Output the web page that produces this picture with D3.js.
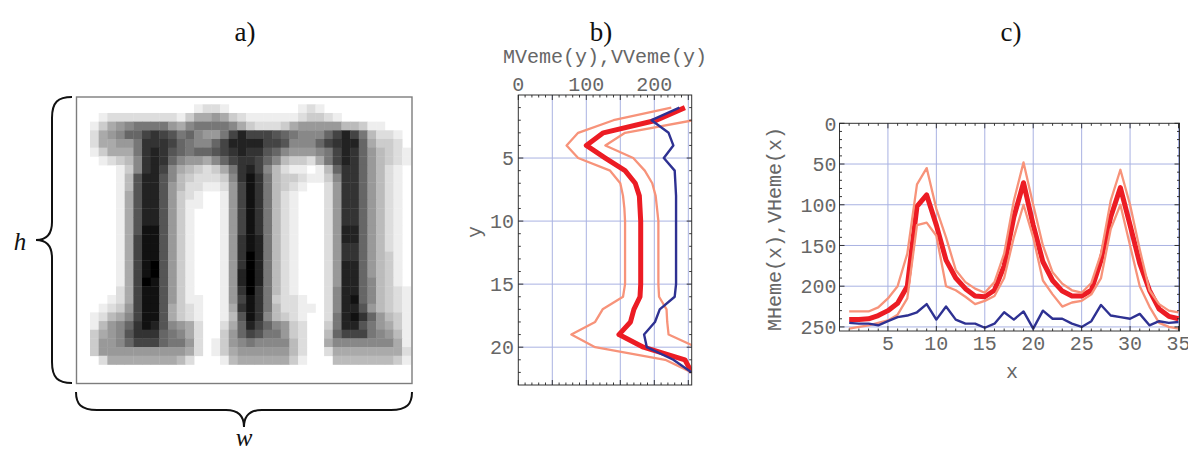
<!DOCTYPE html>
<html>
<head>
<meta charset="utf-8">
<script src="https://cdn.jsdelivr.net/npm/d3@7"></script>
<style>
  body { margin: 0; background: #fff; }
  svg { display: block; }
</style>
</head>
<body>
<svg id="fig" width="1188" height="450"></svg>
<script>
// ---------- data ----------
// a) averaged glyph, one string per image row, hex gray level per pixel (0 = black, f = white)
const glyphRows = [
  "ffffffffffff edde ffffffff ede ffffffffff",
  "fedddddddde caa9acd eeeee edccde ffffffff",
  "eca9877779a877778a cdddca99999bbceefff",
  "da9866434576899742 44456788864247bddef",
  "daa997333467886422 22445888643226accdf",
  "ecaaa7323567665432 335689998742369bcde",
  "fedcb83236899a8643 3468bccda742369bcde",
  "fffec83248abcdca73 248bdeefeb63369bdef",
  "fffeb5225 8bc ddd c831 37bcc dee c8336 9bdef",
  "fffeb5225 9bd dee d941 37bcd eff d9336 9bdef",
  "fffea5225 9cd eff e941 37bde fff d9336 9bdef",
  "fffea5225 9ce eff e941 37bde fff d9336 9bdef",
  "fffea5225 9ce fff e941 37bde fff d9336 9bdef",
  "fffea5225 9ce fff e941 37bde fff d9336 9bdef",
  "fffea5115 9ce fff e941 37bde fff d9226 9bdef",
  "fffea4115 9ce fff e931 27bde fff d9226 9bdef",
  "fffea4115 9ce fff e931 27bde fff d9336 9bdef",
  "fffea4115 9ce fff e930 27bde fff d9336 9bcef",
  "fffea4105 9ce fff e930 27bde fff d9226 9bcef",
  "fffea4105 9ce fff e920 27bde fff d9226 9bcef",
  "fffea4015 9ce fff e920 27bde fff d9226 8bcef",
  "fffda4115 9ce fff e930 37bde fff d8226 8bcde",
  "ffeda4115 9ce eff e941 37cdd eff d8216 8bcde",
  "fedc94115acdef fea3137bddee fd82259bcde",
  "edba84115acdef feb5138bcdef fd721369bce",
  "eb986312589adf fda624689cdf fc722579ace",
  "ca985333678adf fc9645779cdf fb6444789be",
  "c99864446779df ec9878888bdf fa8888888ae",
  "c9999999999adf eca999999bdf fdaaaaaaaad",
  "fdaaaaaaaabdff febaaaaaacef ffbbbbbbbce"
];

// b) row profiles, y = 1..22
const rowY     = [1,2,3,4,5,6,7,8,9,10,11,12,13,14,15,16,17,18,19,20,21,22];
const rowMean  = [245,203,125,100,128,157,172,178,179,180,180,180,180,180,180,179,170,165,148,184,245,255];
const rowLow   = [225,140,88,71,88,135,150,154,156,157,157,157,157,157,157,154,124,113,78,113,216,255];
const rowHigh  = [268,258,157,128,169,186,197,202,204,206,206,206,206,206,206,207,218,219,221,262,270,255];
const rowVar   = [237,196,221,228,214,230,231,232,232,232,232,232,232,232,232,230,208,201,185,189,228,255];

// c) column profiles, x = 1..35
const colX     = [1,2,3,4,5,6,7,8,9,10,11,12,13,14,15,16,17,18,19,20,21,22,23,24,25,26,27,28,29,30,31,32,33,34,35];
const colMean  = [241,241,240,236,230,221,200,102,88,125,168,190,203,212,213,205,175,115,73,125,170,193,206,212,212,205,168,115,79,125,172,205,228,237,240];
const colLow   = [231,231,231,226,215,200,160,75,55,105,140,180,195,203,208,195,160,95,48,100,150,183,197,205,208,196,160,95,57,100,155,205,222,230,232];
const colHigh  = [252,250,248,245,242,235,215,125,122,138,200,205,213,222,218,212,190,140,100,140,193,210,225,220,218,210,190,130,100,150,200,225,245,250,252];
const colVar   = [245,246,246,248,243,238,236,232,222,241,225,241,246,246,251,246,232,241,231,252,230,240,240,246,250,243,223,236,238,240,234,248,243,245,244];

// tick labels
const bTopLabels  = [0, 100, 200];
const bLeftLabels = [5, 10, 15, 20];
const cLeftLabels = [0, 50, 100, 150, 200, 250];
const cBotLabels  = [5, 10, 15, 20, 25, 30, 35];

// ---------- styles ----------
const C_MEAN = "#ec1c24", C_BAND = "#f7937a", C_VAR = "#2e3192", C_GRID = "#a9b2e2";
const MONO = "'Liberation Mono', 'DejaVu Sans Mono', monospace";
const SERIF = "'Liberation Serif', 'DejaVu Serif', serif";
const LABEL = "#666";

const svg = d3.select("#fig");

// ---------- panel titles ----------
[["a)", 245], ["b)", 601], ["c)", 1011]].forEach(([t, x]) => {
  svg.append("text").attr("x", x).attr("y", 41).attr("text-anchor", "middle")
    .attr("font-family", SERIF).attr("font-size", 27).attr("fill", "#111").text(t);
});

// ---------- a) glyph image ----------
const grid = glyphRows.map(r => r.replace(/ /g, "").split("").map(ch => parseInt(ch, 16)));
const xA = d3.scaleLinear().domain([0, 37]).range([90, 410.8]);
const yA = d3.scaleLinear().domain([0, 30]).range([104.3, 364.4]);
const gray = d3.scaleLinear().domain([0, 15]).range(["#000000", "#ffffff"]);
const cells = [];
grid.forEach((row, r) => row.forEach((v, c) => cells.push({r, c, v})));
const gA = svg.append("g");
gA.selectAll("rect.px").data(cells.filter(d => d.v < 15)).join("rect")
  .attr("x", d => xA(d.c)).attr("y", d => yA(d.r))
  .attr("width", xA(1) - xA(0) + 0.4).attr("height", yA(1) - yA(0) + 0.4)
  .attr("fill", d => gray(d.v));
gA.append("rect").attr("x", 76.5).attr("y", 97).attr("width", 335.5).attr("height", 286.5)
  .attr("fill", "none").attr("stroke", "#7d7d7d").attr("stroke-width", 1.4);

// braces
svg.append("path")
  .attr("d", "M72,97 C58,97 52,102 52,118 L52,222 C52,234 46,240 36,240 C46,240 52,246 52,258 L52,362 C52,378 58,383 72,383")
  .attr("fill", "none").attr("stroke", "#111").attr("stroke-width", 2);
svg.append("path")
  .attr("d", "M76,392 C76,404 81,410 97,410 L226,410 C238,410 244,416 244,427 C244,416 250,410 262,410 L391,410 C407,410 412,404 412,392")
  .attr("fill", "none").attr("stroke", "#111").attr("stroke-width", 2);
svg.append("text").attr("x", 20).attr("y", 250).attr("text-anchor", "middle")
  .attr("font-family", SERIF).attr("font-style", "italic").attr("font-size", 25).attr("fill", "#111").text("h");
svg.append("text").attr("x", 244).attr("y", 446).attr("text-anchor", "middle")
  .attr("font-family", SERIF).attr("font-style", "italic").attr("font-size", 25).attr("fill", "#111").text("w");

// ---------- shared helpers ----------
function frameTicks(g, x0, x1, y0, y1, xs, ys) {
  // xs / ys: arrays of {pos, len}; ticks drawn inward on all four sides
  xs.forEach(t => {
    g.append("line").attr("x1", t.pos).attr("x2", t.pos).attr("y1", y0).attr("y2", y0 + t.len);
    g.append("line").attr("x1", t.pos).attr("x2", t.pos).attr("y1", y1).attr("y2", y1 - t.len);
  });
  ys.forEach(t => {
    g.append("line").attr("y1", t.pos).attr("y2", t.pos).attr("x1", x0).attr("x2", x0 + t.len);
    g.append("line").attr("y1", t.pos).attr("y2", t.pos).attr("x1", x1).attr("x2", x1 - t.len);
  });
  g.selectAll("line").attr("stroke", "#222").attr("stroke-width", 0.9);
}

// ---------- b) row profile ----------
const xB = d3.scaleLinear().domain([0, 255]).range([518.3, 691.7]);
const yB = d3.scaleLinear().domain([0, 23]).range([95, 385]);
const gB = svg.append("g");
gB.append("clipPath").attr("id", "clipB").append("rect")
  .attr("x", xB(0)).attr("y", yB(0)).attr("width", xB(255) - xB(0)).attr("height", yB(23) - yB(0));
gB.append("g").selectAll("line.gx").data([50, 100, 150, 200, 250]).join("line")
  .attr("x1", d => xB(d)).attr("x2", d => xB(d)).attr("y1", yB(0)).attr("y2", yB(23))
  .attr("stroke", C_GRID).attr("stroke-width", 1);
gB.append("g").selectAll("line.gy").data(bLeftLabels).join("line")
  .attr("y1", d => yB(d)).attr("y2", d => yB(d)).attr("x1", xB(0)).attr("x2", xB(255))
  .attr("stroke", C_GRID).attr("stroke-width", 1);

const lineB = vals => d3.line().x((d, i) => xB(vals[i])).y((d, i) => yB(rowY[i]))(rowY);
const plotB = gB.append("g").attr("clip-path", "url(#clipB)");
plotB.append("path").attr("d", lineB(rowMean)).attr("fill", "none").attr("stroke", C_MEAN)
  .attr("stroke-width", 5).attr("stroke-linejoin", "round");
[rowLow, rowHigh].forEach(v => plotB.append("path").attr("d", lineB(v)).attr("fill", "none")
  .attr("stroke", C_BAND).attr("stroke-width", 2.3).attr("stroke-linejoin", "round"));
plotB.append("path").attr("d", lineB(rowVar)).attr("fill", "none").attr("stroke", C_VAR)
  .attr("stroke-width", 2.4).attr("stroke-linejoin", "round");

gB.append("rect").attr("x", xB(0)).attr("y", yB(0)).attr("width", xB(255) - xB(0)).attr("height", yB(23) - yB(0))
  .attr("fill", "none").attr("stroke", "#333").attr("stroke-width", 1);
frameTicks(gB.append("g"), xB(0), xB(255), yB(0), yB(23),
  d3.range(0, 256, 10).map(v => ({pos: xB(v), len: v % 50 === 0 ? 5 : 2.5})),
  d3.range(1, 23, 1).map(v => ({pos: yB(v), len: v % 5 === 0 ? 5 : 2.5})));

gB.selectAll("text.tx").data(bTopLabels).join("text")
  .attr("x", d => xB(d)).attr("y", 91).attr("text-anchor", "middle")
  .attr("font-family", MONO).attr("font-size", 20).attr("fill", LABEL).text(d => d);
gB.selectAll("text.ty").data(bLeftLabels).join("text")
  .attr("x", 514).attr("y", d => yB(d)).attr("dy", "0.36em").attr("text-anchor", "end")
  .attr("font-family", MONO).attr("font-size", 20).attr("fill", LABEL).text(d => d);
gB.append("text").attr("x", 605).attr("y", 63).attr("text-anchor", "middle")
  .attr("font-family", MONO).attr("font-size", 20).attr("fill", LABEL).text("MVeme(y),VVeme(y)");
gB.append("text").attr("transform", "translate(481,232) rotate(-90)").attr("text-anchor", "middle")
  .attr("font-family", MONO).attr("font-size", 20).attr("fill", LABEL).text("y");

// ---------- c) column profile ----------
const xC = d3.scaleLinear().domain([0, 35]).range([839.5, 1178.5]);
const yC = d3.scaleLinear().domain([0, 255]).range([123.3, 331]);
const gC = svg.append("g");
gC.append("clipPath").attr("id", "clipC").append("rect")
  .attr("x", xC(0)).attr("y", yC(0)).attr("width", 1179.5 - xC(0)).attr("height", yC(255) - yC(0));
gC.append("g").selectAll("line").data(cBotLabels).join("line")
  .attr("x1", d => xC(d)).attr("x2", d => xC(d)).attr("y1", yC(0)).attr("y2", yC(255))
  .attr("stroke", C_GRID).attr("stroke-width", 1);
gC.append("g").selectAll("line").data([50, 100, 150, 200, 250]).join("line")
  .attr("y1", d => yC(d)).attr("y2", d => yC(d)).attr("x1", xC(0)).attr("x2", 1179.5)
  .attr("stroke", C_GRID).attr("stroke-width", 1);

const lineC = vals => d3.line().x((d, i) => xC(colX[i])).y((d, i) => yC(vals[i]))(colX);
const plotC = gC.append("g").attr("clip-path", "url(#clipC)");
plotC.append("path").attr("d", lineC(colMean)).attr("fill", "none").attr("stroke", C_MEAN)
  .attr("stroke-width", 5).attr("stroke-linejoin", "round");
[colLow, colHigh].forEach(v => plotC.append("path").attr("d", lineC(v)).attr("fill", "none")
  .attr("stroke", C_BAND).attr("stroke-width", 2.3).attr("stroke-linejoin", "round"));
plotC.append("path").attr("d", lineC(colVar)).attr("fill", "none").attr("stroke", C_VAR)
  .attr("stroke-width", 2.4).attr("stroke-linejoin", "round");

gC.append("rect").attr("x", xC(0)).attr("y", yC(0)).attr("width", 1179.5 - xC(0)).attr("height", yC(255) - yC(0))
  .attr("fill", "none").attr("stroke", "#333").attr("stroke-width", 1);
frameTicks(gC.append("g"), xC(0), 1179.5, yC(0), yC(255),
  d3.range(1, 36, 1).map(v => ({pos: xC(v), len: v % 5 === 0 ? 5 : 2.5})),
  d3.range(0, 256, 10).map(v => ({pos: yC(v), len: v % 50 === 0 ? 5 : 2.5})));

gC.selectAll("text.ty").data(cLeftLabels).join("text")
  .attr("x", 836.5).attr("y", d => yC(d)).attr("dy", "0.36em").attr("text-anchor", "end")
  .attr("font-family", MONO).attr("font-size", 20).attr("fill", LABEL).text(d => d);
gC.selectAll("text.tx").data(cBotLabels).join("text")
  .attr("x", d => xC(d)).attr("y", 350).attr("text-anchor", "middle")
  .attr("font-family", MONO).attr("font-size", 20).attr("fill", LABEL).text(d => d);
gC.append("text").attr("x", 1012).attr("y", 378).attr("text-anchor", "middle")
  .attr("font-family", MONO).attr("font-size", 20).attr("fill", LABEL).text("x");
gC.append("text").attr("transform", "translate(781,229) rotate(-90)").attr("text-anchor", "middle")
  .attr("font-family", MONO).attr("font-size", 20).attr("fill", LABEL).text("MHeme(x),VHeme(x)");
</script>
</body>
</html>
